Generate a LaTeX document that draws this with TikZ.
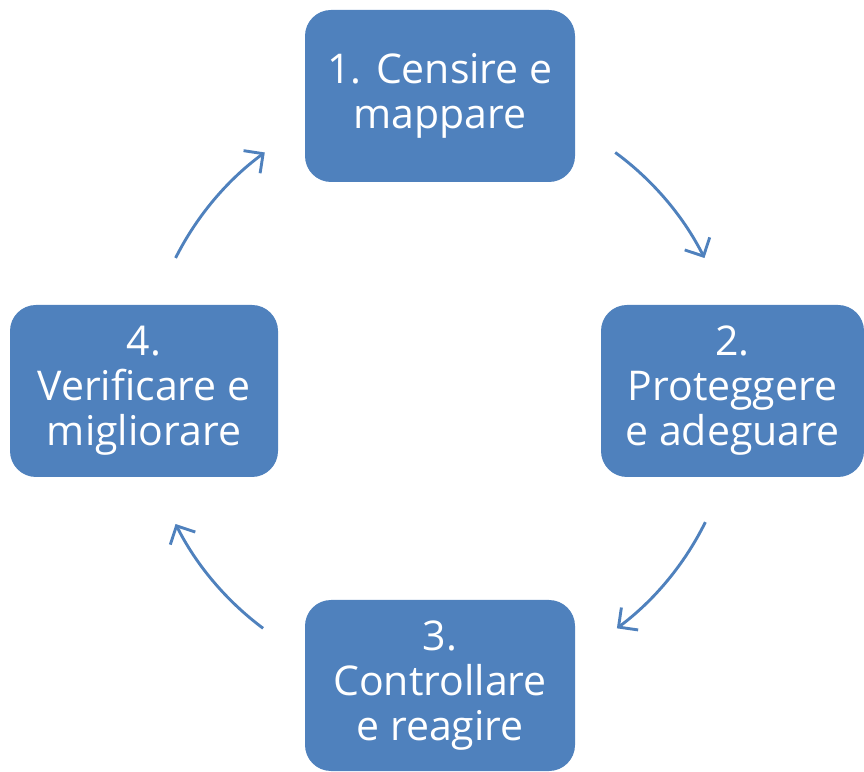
\documentclass[tikz,border=0pt]{standalone}
\usepackage{fontspec}
\setmainfont{Open Sans}
\usetikzlibrary{arrows.meta}
\definecolor{boxblue}{HTML}{4F81BD}
\tikzset{
  stepbox/.style={fill=boxblue, draw=none, rounded corners=26pt, text=white,
    align=center, inner sep=0pt, font=\fontsize{41}{45}\selectfont},
  cyclearrow/.style={draw=boxblue, line width=2.9pt,
    -{Straight Barb[length=14pt, width=28pt, line width=2.9pt]}}
}
\begin{document}
\begin{tikzpicture}[x=1pt,y=1pt]
\useasboundingbox (0,0) rectangle (864,771);
\node[stepbox, minimum width=270pt, minimum height=172pt] (s1) at (440,675) {1. Censire e\\mappare};
\node[stepbox, minimum width=263pt, minimum height=172pt] (s2) at (732.5,380) {2.\\Proteggere\\e adeguare};
\node[stepbox, minimum width=270pt, minimum height=171pt] (s3) at (440,85.5) {3.\\Controllare\\e reagire};
\node[stepbox, minimum width=268pt, minimum height=172pt] (s4) at (144,380) {4.\\Verificare e\\migliorare};
\coordinate (c) at (440,380);
\draw[cyclearrow] ([shift={(53.7:296)}]c) arc[start angle=53.7, end angle=26.7, radius=296];
\draw[cyclearrow] ([shift={(-26.3:296)}]c) arc[start angle=-26.3, end angle=-53.3, radius=296];
\draw[cyclearrow] ([shift={(-126.7:296)}]c) arc[start angle=-126.7, end angle=-153.3, radius=296];
\draw[cyclearrow] ([shift={(153.3:296)}]c) arc[start angle=153.3, end angle=126.3, radius=296];
\end{tikzpicture}
\end{document}
